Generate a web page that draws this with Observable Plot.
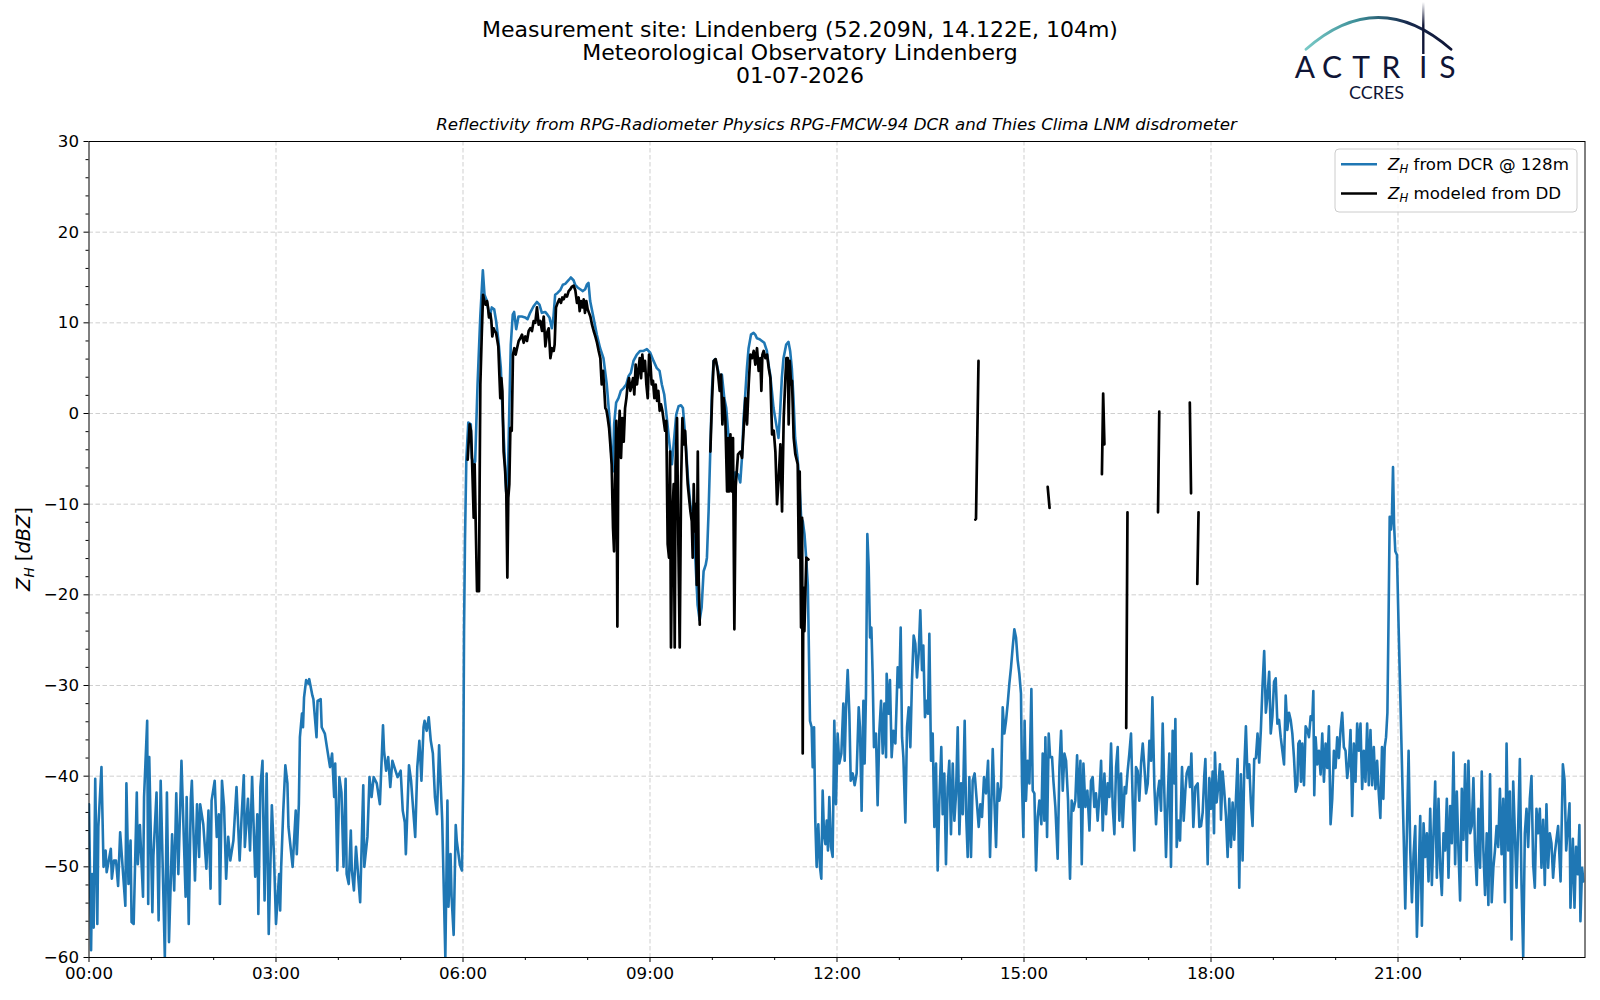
<!DOCTYPE html>
<html>
<head>
<meta charset="utf-8">
<script src="https://cdn.jsdelivr.net/npm/d3@7"></script>
<script src="https://cdn.jsdelivr.net/npm/@observablehq/plot@0.6"></script>
<style>
  body { margin: 0; background: #ffffff; font-family: "DejaVu Sans", sans-serif; }
  #fig { position: relative; width: 1600px; height: 1000px; overflow: hidden; background: #ffffff; }
  #chart { position: absolute; left: 0; top: 110px; }
  #overlay { position: absolute; left: 0; top: 0; pointer-events: none; }
</style>
</head>
<body>
<div id="fig">
  <div id="chart"></div>
  <svg id="overlay" width="1600" height="1000" viewBox="0 0 1600 1000" font-family="DejaVu Sans, sans-serif">
    <defs>
      <linearGradient id="arcGrad" gradientUnits="userSpaceOnUse" x1="1306" y1="0" x2="1451" y2="0">
        <stop offset="0" stop-color="#78c9c6"/>
        <stop offset="0.35" stop-color="#3d8f98"/>
        <stop offset="0.7" stop-color="#17294d"/>
        <stop offset="1" stop-color="#0f1536"/>
      </linearGradient>
      <linearGradient id="barGrad" gradientUnits="userSpaceOnUse" x1="0" y1="2" x2="0" y2="54">
        <stop offset="0" stop-color="#ffffff"/>
        <stop offset="0.45" stop-color="#0f1536"/>
        <stop offset="1" stop-color="#0f1536"/>
      </linearGradient>
    </defs>
    <!-- titles -->
    <text x="800" y="37" text-anchor="middle" font-size="22" fill="#000">Measurement site: Lindenberg (52.209N, 14.122E, 104m)</text>
    <text x="800" y="60" text-anchor="middle" font-size="22" fill="#000">Meteorological Observatory Lindenberg</text>
    <text x="800" y="83" text-anchor="middle" font-size="22" fill="#000">01-07-2026</text>
    <text x="836.5" y="130" text-anchor="middle" font-size="16.67" font-style="italic" fill="#000">Reflectivity from RPG-Radiometer Physics RPG-FMCW-94 DCR and Thies Clima LNM disdrometer</text>
    <!-- logo -->
    <path d="M1306,49.3 Q1378,-14.3 1451,49.3" fill="none" stroke="url(#arcGrad)" stroke-width="2.8" stroke-linecap="round"/>
    <line x1="1423.3" y1="2" x2="1423.3" y2="54" stroke="url(#barGrad)" stroke-width="2.4"/>
    <text y="78.3" font-family="Lato, 'DejaVu Sans', sans-serif" font-size="30" fill="#0f1536" text-anchor="middle" x="1305 1332 1361 1391 1423.3 1447.5">ACTRIS</text>
    <text x="1376.5" y="99.3" font-family="Lato, 'DejaVu Sans', sans-serif" font-size="18" fill="#0f1536" text-anchor="middle">CCRES</text>
    <!-- y label -->
    <text transform="translate(30,549) rotate(-90)" text-anchor="middle" font-size="19.4" fill="#000"><tspan font-style="italic">Z</tspan><tspan font-style="italic" font-size="13.6" dy="4">H</tspan><tspan dy="-4"> [</tspan><tspan font-style="italic">dBZ</tspan><tspan>]</tspan></text>
    <!-- legend -->
    <rect x="1335" y="149" width="242" height="63" rx="4" ry="4" fill="#ffffff" fill-opacity="0.8" stroke="#cccccc" stroke-width="1"/>
    <line x1="1341" y1="164.3" x2="1377" y2="164.3" stroke="#1f77b4" stroke-width="2.6"/>
    <line x1="1341" y1="193.5" x2="1377" y2="193.5" stroke="#000000" stroke-width="2.6"/>
    <text x="1388" y="170" font-size="16.67" fill="#000"><tspan font-style="italic">Z</tspan><tspan font-style="italic" font-size="11.7" dy="3">H</tspan><tspan dy="-3"> from DCR @ 128m</tspan></text>
    <text x="1388" y="199.3" font-size="16.67" fill="#000"><tspan font-style="italic">Z</tspan><tspan font-style="italic" font-size="11.7" dy="3">H</tspan><tspan dy="-3"> modeled from DD</tspan></text>
  </svg>
</div>
<script>
// ---- tick definitions ----
const hourTicks = [0, 3, 6, 9, 12, 15, 18, 21];
const hourMinor = [1, 2, 4, 5, 7, 8, 10, 11, 13, 14, 16, 17, 19, 20, 22, 23];
const zTicks = [-60, -50, -40, -30, -20, -10, 0, 10, 20, 30];
const zMinor = [-58, -56, -54, -52, -48, -46, -44, -42, -38, -36, -34, -32, -28, -26, -24, -22, -18, -16, -14, -12, -8, -6, -4, -2, 2, 4, 6, 8, 12, 14, 16, 18, 22, 24, 26, 28];

// ---- Z_H from DCR @ 128m : time (minutes after 00:00) and reflectivity (dBZ) ----
const dcrMinute = [
0,2,3,4.5,6,8,9,12,14,16,
17,19,21,22,24,26,28,30,35,36,
38,40,41,43,46,47,49,52,53,56,
57,58,61,62,65,67,69,73,75,77,
80,82,84,86,89,93,94,96,98,99,
102,104,106,107,110,113,115,117,118,121,
123,125,126,128,130,132,134,136,139,142,
145,147,149,150,153,155,157,160,162,163,
165,167,169,171,173,176,178,180,183,184,
185,187,189,191,192,196,199,200,202,203,
205,206,207,209,211,212,215,216,219,220,
223,224,227,229,232,234,236,237,239,241,
243,245,247,248,250,252,253,255,257,261,
264,265,268,270,272,274,277,280,283,284,
286,288,290,292,297,300,302,304,305,308,
310,312,314,316,318,320,322,323,325,327,
329,331,333,335,337,340,343,345,346,348,
349,351,353,354,357,359,360.3,361,361.9,363.2,
365.1,367.5,368.5,370.1,371.7,374,376.6,379.1,380.7,383,
385.5,387.7,390,391.9,394.1,396.4,398.3,399.9,401.5,403.1,
404.7,406,407.9,409.2,411.2,413.4,416.6,419.8,422.1,424.6,
427.8,431.1,433.6,435.9,439.1,441.3,443.2,445.5,447.1,448.7,
451,453.6,456.1,458.4,461.6,463.8,466.4,468,470.3,472.8,
475.4,477.6,479.2,480.8,482.4,485.6,488.8,492,495.2,498.4,
501,502.6,504.2,505.5,507.4,509.7,511.9,514.5,517.1,519.3,
521.6,524.1,527.3,530.5,533.8,537,540.2,543.4,546.6,549.2,
551.4,553.7,556.2,558.8,561.1,563.3,565.3,567.5,569.8,571.7,
573.3,574.9,576.5,578.8,581,583.6,585.8,587.8,589.7,591.6,
593.6,594.8,596.4,598,599.6,601.2,602.8,604.4,607,609.2,
611.5,613.4,615.7,617.9,619.8,622.1,624.7,626.9,628.5,630.1,
631.7,633.3,634.9,637.2,639.7,641.3,642.9,645.5,647.7,650,
652.5,654.1,655.7,657.3,658.9,661.5,663.7,665.3,666.9,668.5,
671.1,673.3,674.9,676.5,678.1,679.7,682,683.9,685.5,687.1,
688.7,690.3,691.9,692.7,694,695.6,696.6,697.9,699.1,700.4,
702,703.6,704.9,706.2,707.5,708.8,710.1,711.3,712.6,714.2,
715.8,717.4,719,720.6,722.2,724.2,726.1,727.4,728.7,730.3,
731.9,733.2,735.1,737,738.9,740.9,742.1,743.7,745.4,746.6,
747.9,749.2,750.5,751.8,753.1,754.3,755.6,757.5,759.1,760.8,
762.4,764,765.6,767.2,767.8,769.7,771,772.6,774.2,776.2,
778.4,780,781.3,782.6,783.9,785.8,787.4,789,790.6,792.2,
793.8,795.4,797,798.6,800.2,801.8,803.1,804.7,806.3,807.6,
808.9,810.5,812.1,813.7,815.3,816.9,818.5,820.4,821.7,823.3,
824.9,826.5,828.1,829.7,831.4,833,834.6,836.2,837.8,839.4,
841,842.9,844.2,845.8,847.4,849,850.6,852.5,854.5,856.4,
858,859.6,861.5,863.4,865.4,867.3,869.9,871.5,873.1,874.7,
876.3,877.9,879.5,881.1,882.7,884.3,885.9,887.5,889.1,890.7,
892.3,893.9,895.5,897.1,898.1,899.4,900.6,901.9,903.5,905.2,
907.1,908.4,910,911.6,913.2,914.8,916.7,918,919.6,920.6,
922.2,923.8,925.1,927,928.3,930.2,932.4,934.1,935.7,937.3,
938.9,940.5,942.4,944.3,945.9,947.5,949.4,951.1,952.7,954.3,
955.6,957.2,959.1,961,963,964.5,966.1,967.7,969.3,970.9,
972.5,974.2,975.8,977.4,979,980.6,982.2,983.8,985.4,987,
988.6,990.2,991.8,993.4,995,996.9,998.2,999.8,1001.4,1003,
1004.6,1006.2,1007.8,1009.4,1011,1012.7,1014.3,1015.9,1017.5,1019.1,
1020.7,1022.3,1023.6,1025.5,1027.1,1028.7,1030.3,1031.9,1033.5,1035.1,
1036.7,1038.3,1039.9,1041.5,1043.1,1044.8,1045.7,1047,1048.6,1050.2,
1052.1,1053.7,1055.3,1056.6,1058.5,1059.8,1061.1,1063,1064.9,1067.2,
1068.8,1070.4,1072,1073.6,1074.6,1076.8,1078.4,1080,1081.6,1082.9,
1083.8,1085.4,1087.4,1088.6,1089.6,1091.2,1092.8,1094.4,1096,1097.6,
1099.2,1100.8,1102.4,1104,1105.6,1107.2,1108.8,1110.4,1112,1113.6,
1115.2,1116.8,1118.4,1120,1121.6,1123.2,1124.8,1126.4,1128,1129.6,
1131.2,1132.8,1134.4,1136,1137.5,1139.1,1140.7,1142.3,1143.9,1145.5,
1147.1,1148.7,1150.3,1151.9,1153.5,1155.1,1156.7,1158.3,1159.9,1161.5,
1163.1,1164.1,1165.4,1166.6,1167.9,1169.5,1171.1,1172.7,1174.3,1175.9,
1177.5,1178.5,1179.4,1180.7,1182.3,1183.9,1185.5,1187.1,1188.7,1190.3,
1191.9,1193.5,1195.1,1196.7,1198.3,1199.9,1201.5,1203.1,1204.7,1206.3,
1207.9,1209.5,1211.1,1212.7,1214.3,1215.9,1217.5,1219.1,1220.7,1222.3,
1223.9,1225.5,1227.1,1228.7,1230.3,1231.9,1233.5,1235.1,1236.7,1238.3,
1239.9,1241.4,1243,1244.6,1245.9,1247.2,1248.5,1249.8,1251,1252,
1253.3,1254.2,1255.2,1256.2,1257.4,1259,1260.6,1262.2,1263.8,1265.4,
1267,1268.6,1270.2,1271.8,1273.4,1275,1276.6,1278.2,1279.8,1281.4,
1283,1284.6,1286.2,1287.8,1289.4,1291,1292.6,1294.2,1295.8,1297.4,
1299,1300.6,1302.2,1303.8,1305.4,1307,1308.6,1310.2,1311.8,1313.4,
1315,1316.6,1318.2,1319.8,1321.4,1323,1324.6,1326.2,1327.8,1329.4,
1331,1332.6,1334.2,1335.8,1337.4,1339,1340.6,1342.2,1343.8,1345.4,
1347,1348.6,1350.2,1351.8,1353.3,1354.9,1356.5,1358.1,1359.7,1361.3,
1362.9,1364.5,1366.1,1367.7,1369.3,1370.9,1372.5,1374.1,1375.7,1377.3,
1378.9,1380.5,1382.1,1383.7,1385.3,1386.9,1388.5,1390.1,1391.7,1393.3,
1394.9,1396.5,1398.1,1399.7,1401.3,1402.9,1404.5,1406.1,1407.7,1409.3,
1410.9,1412.5,1414.1,1416.5,1418.7,1420.3,1421.9,1423.5,1425.1,1426,
1428.3,1429.9,1431.4,1433,1434.6,1435.6,1437.2,1438.5
];
const dcrZ = [
-43.1,-59.2,-50.8,-56.7,-40.3,-56.3,-45.6,-39.0,-50.0,-48.2,
-50.6,-49.3,-48.0,-51.3,-49.3,-49.3,-52.1,-46.2,-54.3,-40.8,
-51.9,-47.1,-56.1,-56.3,-41.8,-49.7,-45.4,-53.3,-42.3,-33.9,
-54.1,-37.9,-55.0,-48.8,-41.8,-55.9,-40.5,-60,-41.8,-58.3,
-46.4,-52.6,-41.9,-50.8,-38.3,-53.3,-42.3,-56.3,-42.5,-40.5,
-51.5,-43.1,-48.9,-43.1,-45.3,-50.2,-43.8,-52.4,-42.7,-40.5,
-46.7,-44.2,-54.1,-40.5,-43.4,-51.3,-46.7,-49.3,-47.1,-41.2,
-49.3,-44.2,-39.9,-47.8,-42.5,-48.2,-40.1,-51.1,-44.2,-55.2,
-41.2,-38.3,-53.7,-39.7,-57.4,-43.2,-48.6,-56.3,-50.8,-54.8,
-50.0,-43.8,-38.8,-40.8,-45.6,-50.0,-43.8,-48.6,-43.1,-35.7,
-33.1,-34.6,-31.3,-29.4,-29.8,-29.3,-31.1,-31.5,-35.7,-31.7,
-31.5,-34.6,-35.3,-36.8,-39.0,-37.5,-42.3,-38.6,-50.4,-40.1,
-41.8,-50.0,-40.3,-50.8,-51.9,-46.0,-50.4,-52.6,-47.8,-53.9,
-41.0,-50.0,-46.7,-40.1,-42.3,-40.1,-40.8,-43.1,-34.4,-37.2,
-39.4,-37.9,-41.2,-38.3,-40.1,-39.4,-43.8,-45.1,-48.6,-38.8,
-40.5,-43.6,-46.7,-39.0,-36.1,-40.5,-34.6,-33.9,-35.0,-33.5,
-36.1,-37.5,-42.3,-44.2,-36.6,-44.9,-60,-42.7,-54.4,-48.6,
-53.3,-57.5,-45.4,-47.1,-49.8,-50.4,-39.6,-23.9,-14.1,-5.1,
-1.0,-1.2,-4.9,-5.6,-5.3,3.2,10.6,15.8,13.1,12.4,
10.6,11.7,11.5,10.2,8.0,5.0,-0.5,-4.2,-8.6,-7.8,
1.2,7.6,10.9,11.2,9.3,10.7,10.7,10.6,10.4,11.1,
11.8,12.3,12.0,11.1,11.2,10.9,10.6,9.4,10.7,13.1,
13.3,13.6,14.2,14.3,14.7,15.0,14.7,14.2,13.9,13.7,
13.5,13.7,14.2,14.4,12.4,10.6,8.7,7.2,6.1,3.2,
-0.5,-4.2,-6.4,-1.2,1.2,1.7,2.5,2.8,3.2,4.1,
4.5,5.8,6.5,6.9,6.9,7.1,6.7,5.8,5.0,4.7,
3.2,2.1,-0.5,-3.4,-5.6,-2.7,-0.1,0.8,0.9,0.6,
-1.6,-4.2,-7.1,-10.0,-11.9,-15.9,-21.1,-22.8,-21.4,-17.4,
-16.7,-15.9,-10.8,-4.2,2.5,5.8,6.0,5.4,3.9,4.3,
1.7,0.6,-2.7,-5.6,-7.8,-6.5,-6.7,-7.6,-4.9,-0.5,
2.1,5.0,7.2,8.7,8.9,8.7,8.3,8.2,8.0,7.8,
6.9,5.4,4.3,2.5,0.6,-1.2,-2.7,0.3,3.9,6.1,
7.6,7.9,6.9,5.0,1.7,-2.7,-4.9,-7.8,-11.5,-11.9,
-13.3,-15.9,-18.9,-24.3,-33.9,-34.6,-39.0,-34.6,-44.9,-50.0,
-45.3,-50.0,-51.3,-41.6,-46.4,-47.5,-44.9,-48.2,-42.3,-47.8,
-48.9,-33.9,-43.1,-35.3,-38.6,-37.5,-32.0,-38.3,-32.4,-28.3,
-33.1,-40.5,-39.7,-41.0,-39.7,-32.4,-34.6,-43.8,-31.7,-38.6,
-30.9,-13.3,-16.9,-24.7,-23.6,-28.7,-36.8,-35.3,-43.2,-35.0,
-31.7,-37.5,-32.0,-37.9,-28.7,-33.1,-29.4,-37.9,-35.0,-36.4,
-28.0,-30.2,-23.6,-35.7,-37.9,-45.1,-34.6,-32.4,-36.8,-29.4,
-24.5,-25.4,-29.1,-26.5,-21.7,-28.3,-25.6,-33.5,-31.7,-33.1,
-24.3,-38.3,-35.3,-45.6,-38.6,-50.4,-42.7,-36.8,-44.2,-39.7,
-49.7,-41.2,-38.3,-46.4,-38.6,-44.9,-41.9,-34.6,-46.4,-40.8,
-44.2,-33.9,-43.8,-48.9,-40.1,-48.9,-40.5,-39.7,-42.7,-45.6,
-43.1,-44.5,-40.1,-41.9,-38.3,-48.9,-37.0,-42.7,-47.8,-40.8,
-42.7,-41.2,-32.4,-35.3,-33.9,-32.0,-29.8,-28.0,-25.8,-23.8,
-24.7,-27.2,-28.7,-30.9,-40.8,-46.7,-33.9,-42.7,-38.3,-40.8,
-30.4,-41.6,-41.9,-50.4,-44.5,-42.7,-45.3,-37.5,-44.9,-35.7,
-46.7,-35.3,-37.9,-37.9,-40.5,-43.4,-49.1,-39.0,-35.0,-41.6,
-37.5,-38.3,-42.7,-51.3,-42.7,-43.8,-42.7,-37.7,-43.4,-38.3,
-49.7,-38.6,-43.4,-41.6,-46.0,-40.5,-40.1,-43.4,-41.9,-44.9,
-42.3,-38.3,-46.0,-39.7,-44.2,-40.8,-42.3,-36.4,-43.4,-46.4,
-39.0,-36.8,-44.9,-39.7,-45.6,-41.2,-41.9,-39.4,-37.5,-35.3,
-42.7,-48.2,-39.0,-39.4,-42.7,-38.6,-36.4,-39.0,-41.9,-40.8,
-36.1,-38.3,-31.3,-41.2,-45.3,-41.9,-40.5,-43.8,-34.2,-41.9,
-48.9,-42.7,-37.5,-50.0,-35.0,-40.8,-33.7,-47.8,-44.9,-47.1,
-39.0,-44.9,-41.6,-39.7,-39.0,-41.2,-37.5,-45.6,-41.2,-40.8,
-45.6,-45.5,-44.0,-39.8,-38.1,-49.7,-40.2,-43.6,-39.5,-46.3,
-37.4,-42.9,-40.6,-38.7,-44.8,-39.5,-41.7,-44.4,-48.9,-42.5,
-47.8,-42.9,-47.0,-42.5,-38.1,-52.3,-39.8,-49.3,-39.3,-34.5,
-40.2,-38.7,-42.9,-45.5,-38.1,-38.0,-35.3,-38.5,-34.9,-30.0,
-26.2,-33.0,-31.1,-28.5,-35.3,-33.4,-29.6,-29.2,-34.2,-33.8,
-35.7,-37.2,-38.7,-31.1,-34.9,-33.0,-33.8,-35.3,-38.0,-41.7,
-41.0,-36.4,-36.1,-40.6,-36.4,-41.0,-34.5,-34.9,-35.7,-33.4,
-33.8,-30.6,-42.1,-35.7,-38.7,-37.2,-39.8,-35.3,-40.6,-36.4,
-39.1,-34.5,-45.3,-42.5,-37.2,-39.1,-35.7,-38.0,-34.9,-33.0,
-36.8,-37.2,-40.2,-38.7,-34.9,-44.4,-36.4,-40.6,-34.2,-37.2,
-34.2,-41.4,-37.2,-40.6,-34.2,-41.0,-34.9,-41.0,-36.8,-41.4,
-38.3,-41.7,-44.6,-36.8,-42.5,-36.8,-35.7,-33.0,-21.7,-11.4,
-12.8,-11.1,-5.9,-12.2,-15.2,-15.6,-23.6,-31.1,-38.7,-46.3,
-54.6,-45.9,-37.2,-48.2,-53.9,-48.6,-45.5,-57.7,-51.2,-44.4,
-56.5,-45.2,-48.9,-46.3,-51.6,-43.6,-52.0,-46.3,-40.6,-51.2,
-42.5,-50.1,-53.1,-46.3,-48.2,-42.5,-51.2,-43.3,-47.4,-37.4,
-49.7,-41.7,-48.2,-53.7,-41.4,-47.0,-38.7,-49.3,-38.3,-46.3,
-45.5,-40.2,-48.2,-52.0,-43.6,-50.1,-39.5,-48.2,-53.1,-46.3,
-54.2,-39.8,-53.9,-50.1,-48.2,-45.5,-47.8,-41.4,-48.6,-42.5,
-53.9,-36.4,-48.2,-41.7,-58.0,-40.6,-46.3,-52.3,-45.5,-38.1,
-52.0,-59.9,-46.3,-43.6,-47.8,-42.5,-40.0,-49.7,-52.3,-43.6,
-46.3,-43.6,-50.1,-44.8,-52.0,-43.1,-50.1,-46.3,-47.4,-51.2,
-48.6,-47.0,-45.5,-51.6,-38.7,-40.4,-48.2,-45.6,-43.0,-54.5,
-46.9,-54.5,-47.8,-50.8,-45.4,-56.0,-50.1,-51.6
];

// ---- Z_H modeled from disdrometer (DD): time (minutes) and dBZ; null = no data ----
const ddMinute = [
364.5,366.4,367.7,368.7,370.3,371.2,372.2,373.5,375.4,376,
376.7,378,379.3,380.5,381.8,383.1,384.1,385,386.3,387.3,
388.2,389.5,390.5,391.8,392.7,394,395,395.9,396.9,397.9,
399.1,400.4,401.7,402.7,403.6,404.6,405.6,406.9,408.1,409.4,
410.7,412,413.6,415.2,416.8,418.4,420,421.6,423.2,424.8,
426.4,428,429.6,431.2,432.8,434.4,436.1,437.7,439.3,440.9,
442.5,444.1,445.7,447.3,448.2,449.5,451.1,452.7,454.3,455.6,
456.9,458.5,460.1,461.7,463.3,464.9,466.5,468.1,469.7,471.3,
472.3,473.6,474.9,476.2,477.4,478.7,480,481.3,482.6,484.2,
485.8,487.4,489,490.6,492.2,493.5,494.8,495.7,497,498,
499.3,500.6,501.8,503.1,504.4,505.4,506.3,507.6,508.6,509.5,
510.8,512.1,513.4,514.7,516,517.3,518.5,519.8,521.1,522.4,
523.7,524.9,526.2,527.5,528.8,530.1,531.4,532.6,533.9,535.2,
536.5,537.8,539.1,540.3,541.6,542.9,544.2,545.5,546.8,548,
549.3,550.6,551.9,553.2,554.5,555.7,557,558.3,559.3,560.2,
561.5,562.8,563.8,564.7,566,567.3,568.6,569.9,571.2,572.5,
573.8,575,576.3,577.6,578.9,580.2,581.1,582.1,583.1,584,
585,586,586.9,587.9,593,598.1,599.7,601.3,603.2,605.2,
607.1,608.4,609.7,610.9,612.5,614.2,615.1,616.1,617.4,618.6,
619.9,621.2,622.5,624.7,627,628.6,631.8,633.4,635,636.6,
638.2,639.8,641.4,643,644.6,646.2,647.2,648.2,649.4,651.1,
652.7,654.3,655.9,657.5,659.1,660.7,662.3,663.9,665.5,667.1,
668.7,670.3,671.3,672.6,673.5,674.5,675.8,676.7,678.3,679.9,
682.2,683.2,684.1,685.4,686.4,687,687.6,688.6,689.6,690.5,
692.5,760,853.2,853.8,856.2,890,922.8,924.6,950,975,
976.2,977.4,988,998.4,999.6,1015,1029,1030.2,1045,1059.6,
1060.8,1064,1066.8,1068
];
const ddZ = [
-5.1,-1.2,-1.9,-5.1,-11.5,-5.6,-11.9,-19.6,-19.6,-7.8,
3.2,8.5,13.1,12.4,12.0,12.4,11.7,10.6,11.0,10.2,
8.5,9.4,9.1,8.9,8.3,7.4,4.3,1.7,3.9,2.5,
-4.2,-6.0,-8.9,-18.1,-9.3,-7.8,-1.6,-1.9,6.5,7.2,
6.5,7.2,8.0,8.3,8.7,7.8,8.5,8.0,9.1,9.4,
9.1,10.2,10.0,11.7,9.8,10.2,9.1,10.7,7.4,8.9,
9.4,6.1,7.2,6.9,7.6,11.7,12.2,12.6,12.2,12.8,
12.6,13.1,12.9,13.5,13.7,14.0,14.1,13.6,12.2,12.8,
11.3,12.4,11.7,12.6,11.1,12.4,11.5,11.1,10.7,9.8,
9.1,8.5,7.8,6.9,6.1,3.2,4.7,3.2,0.6,0.4,
-0.5,-1.6,-3.4,-5.6,-12.6,-15.2,-7.8,-0.8,-23.5,-4.2,
0.3,-4.9,-0.5,-3.1,0.6,1.7,3.2,3.9,2.5,3.2,
3.9,2.1,5.4,3.2,4.7,6.1,3.9,6.5,4.7,5.8,
3.2,1.7,6.5,5.8,3.2,3.6,1.7,3.2,1.4,2.5,
0.3,1.0,0.3,-0.8,-1.9,-0.8,-14.4,-15.9,-4.2,-25.8,
-11.5,-7.8,-25.8,-5.6,-0.5,-14.4,-25.8,-7.8,-0.5,-3.4,
-1.9,-4.9,-7.8,-9.3,-10.8,-11.9,-15.9,-7.8,-13.0,-10.0,
-18.9,-4.2,-18.5,-23.3,null,-4.2,1.4,5.8,6.0,4.7,
2.5,4.3,-1.2,1.7,-0.5,-8.6,-2.7,-8.6,-2.3,-8.6,
-2.7,-23.8,-8.0,-4.5,-4.2,-4.9,1.7,-1.2,3.2,6.5,
6.1,6.9,5.4,7.2,4.7,6.1,2.5,6.5,6.9,6.1,
6.5,5.0,3.9,-2.3,-1.9,-4.2,-10.0,-7.1,-3.4,-10.8,
-0.5,3.9,6.1,6.1,-1.2,5.8,3.2,3.6,-2.7,-4.5,
-5.6,-15.9,-6.4,-23.6,-11.5,-37.5,-19.2,-24.0,-19.6,-15.9,
-16.1,null,-11.7,-11.6,5.8,null,-8.1,-10.4,null,-6.7,
2.2,-3.4,null,-34.7,-10.9,null,-10.9,0.2,null,1.2,
-8.8,null,-18.8,-10.9
];

const dcr = d3.range(Math.min(dcrMinute.length, dcrZ.length)).map(i => ({h: dcrMinute[i] / 60, z: dcrZ[i]}));
const dd = d3.range(Math.min(ddMinute.length, ddZ.length)).map(i => ({h: ddMinute[i] / 60, z: ddZ[i]}));

const minus = d => (d < 0 ? "\u2212" + Math.abs(d) : String(d));
const hhmm = h => String(h).padStart(2, "0") + ":00";
const gridStyle = {stroke: "#cfcfcf", strokeOpacity: 1, strokeWidth: 1, strokeDasharray: "4.5,2.5"};

const chart = Plot.plot({
  width: 1600,
  height: 890,
  marginTop: 31,
  marginBottom: 43,
  marginLeft: 88.5,
  marginRight: 15.5,
  style: {fontFamily: "DejaVu Sans, sans-serif", fontSize: "16.67px", color: "#000", background: "transparent"},
  x: {type: "linear", domain: [0, 24]},
  y: {type: "linear", domain: [-60, 30]},
  marks: [
    Plot.gridX({...gridStyle, ticks: hourTicks.slice(1)}),
    Plot.gridY({...gridStyle, ticks: zTicks.slice(1, -1)}),
    Plot.line(dcr, {x: "h", y: "z", stroke: "#1f77b4", strokeWidth: 2.6, strokeLinejoin: "round", clip: true}),
    Plot.line(dd, {x: "h", y: "z", stroke: "#000000", strokeWidth: 2.7, strokeLinejoin: "round", clip: true}),
    Plot.frame({stroke: "#000", strokeWidth: 1}),
    Plot.axisY({ticks: zTicks, tickSize: 5, tickPadding: 5, tickFormat: minus, fontSize: 16.67, label: null}),
    Plot.axisY({ticks: zMinor, tickSize: 3, tickFormat: () => "", label: null}),
    Plot.axisX({ticks: hourTicks, tickSize: 5, tickPadding: 5, tickFormat: hhmm, fontSize: 16.67, label: null}),
    Plot.axisX({ticks: hourMinor, tickSize: 3, tickFormat: () => "", label: null})
  ]
});
document.getElementById("chart").appendChild(chart);
</script>
</body>
</html>
